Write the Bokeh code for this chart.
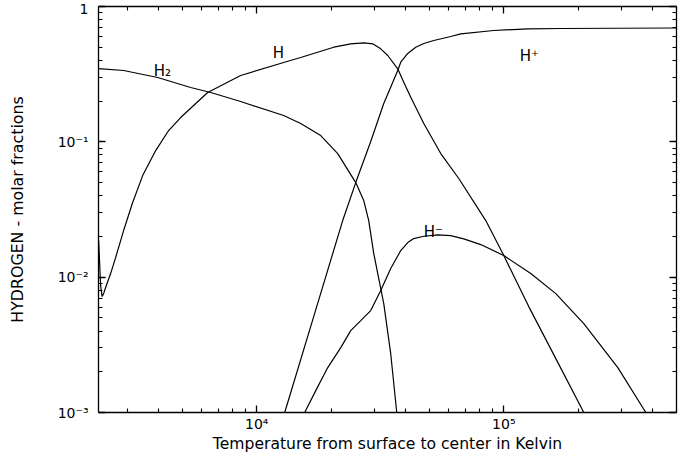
from bokeh.plotting import figure
from bokeh.models import LogAxis, FixedTicker, Range1d, ColumnDataSource
from bokeh.embed import file_html
from bokeh.resources import INLINE
from bokeh.core.properties import value

# ---------------- data (temperature in K, molar fraction) -------------
h2_temp = [2293, 2894, 3975, 5405, 6514, 8613, 12860, 15070, 18160, 21280, 25170,
           27120, 28410, 29770, 32680, 34870, 36880]
h2_frac = [0.348, 0.3365, 0.2987, 0.252, 0.2314, 0.1986, 0.1564, 0.1365, 0.1113, 0.0819,
           0.0500, 0.0368, 0.0262, 0.01494, 0.00638, 0.00272, 0.00100]

h_temp = [2293, 2336, 2368, 2402, 2447, 2564, 2686, 2894, 3148, 3456, 3901, 4403, 4924,
          6332, 8613, 12860, 15070, 20500, 24020, 27120, 29490, 31770, 33920, 37230,
          39370, 42030, 47450, 55580, 65750, 84560, 100000, 126200, 162400, 210800]
h_frac = [0.01864, 0.00867, 0.00719, 0.00756, 0.00838, 0.01063, 0.01396, 0.0221, 0.0356,
          0.0563, 0.0862, 0.1212, 0.1512, 0.2314, 0.3090, 0.3856, 0.4198, 0.5003, 0.5300,
          0.5391, 0.5300, 0.4868, 0.4344, 0.3464, 0.2758, 0.2136, 0.1365, 0.0819, 0.0536,
          0.0262, 0.01444, 0.00606, 0.00250, 0.00100]

hplus_temp = [12985, 17010, 22290, 25170, 28940, 32680, 37230, 38280, 40870, 44030, 47450,
              52080, 61020, 66950, 91100, 125100, 170200, 500000]
hplus_frac = [0.00100, 0.00511, 0.0262, 0.0500, 0.1005, 0.1919, 0.3365, 0.3876, 0.4495,
              0.5003, 0.5327, 0.5606, 0.6002, 0.6284, 0.6646, 0.684, 0.6878, 0.6937]

hminus_temp = [15640, 17340, 19390, 21890, 24020, 26370, 28940, 31770, 34870, 38280, 40870,
               43210, 47450, 54060, 61020, 68880, 80700, 100000, 128600, 162400, 210800,
               289400, 375700]
hminus_frac = [0.00100, 0.001451, 0.002147, 0.003018, 0.00403, 0.004777, 0.005664, 0.007962,
               0.01158, 0.01572, 0.01802, 0.01929, 0.02006, 0.02054, 0.0203, 0.01919,
               0.01741, 0.01444, 0.01063, 0.00756, 0.00454, 0.002147, 0.00100]

x_major = [1e4, 1e5]
x_minor = [3e3, 4e3, 5e3, 6e3, 7e3, 8e3, 9e3,
           2e4, 3e4, 4e4, 5e4, 6e4, 7e4, 8e4, 9e4,
           2e5, 3e5, 4e5, 5e5]
y_major = [1e-3, 1e-2, 1e-1, 1]
y_minor = [2e-3, 3e-3, 4e-3, 5e-3, 6e-3, 7e-3, 8e-3, 9e-3,
           2e-2, 3e-2, 4e-2, 5e-2, 6e-2, 7e-2, 8e-2, 9e-2,
           2e-1, 3e-1, 4e-1, 5e-1, 6e-1, 7e-1, 8e-1, 9e-1]
x_tick_text = {1e4: "10\u2074", 1e5: "10\u2075"}
y_tick_text = {1: "1", 0.1: "10\u207b\u00b9", 0.01: "10\u207b\u00b2", 0.001: "10\u207b\u00b3"}

species = ["H\u2082", "H", "H\u207a", "H\u207b"]
species_temp = [3828, 11610, 116100, 47450]
species_frac = [0.3365, 0.4495, 0.4344, 0.02173]

x_title = "Temperature from surface to center in Kelvin"
y_title = "HYDROGEN - molar fractions"

# ---------------- figure ----------------
FONT = "DejaVu Sans"

p = figure(width=692, height=456, x_axis_type="log", y_axis_type="log",
           x_range=Range1d(2290, 5e5), y_range=Range1d(1e-3, 1),
           output_backend="svg", toolbar_location=None,
           min_border_left=98, min_border_right=16, min_border_top=6, min_border_bottom=44)
p.grid.visible = False
p.outline_line_color = None
p.background_fill_color = "white"
p.border_fill_color = "white"


def style_axis(ax, ticks, minor, labels=None, show_labels=True):
    ax.ticker = FixedTicker(ticks=ticks, minor_ticks=minor)
    ax.axis_line_color = "black"
    ax.axis_line_width = 1.3
    ax.major_tick_line_color = "black"
    ax.major_tick_line_width = 1.3
    ax.minor_tick_line_color = "black"
    ax.minor_tick_line_width = 1.1
    ax.major_tick_in = 7
    ax.major_tick_out = 0
    ax.minor_tick_in = 4
    ax.minor_tick_out = 0
    ax.major_label_text_font = FONT
    ax.axis_label_text_font = FONT
    ax.axis_label_text_font_style = "normal"
    ax.axis_label_text_color = "black"
    if show_labels:
        ax.major_label_overrides = labels
        ax.major_label_text_font_size = "14px"
        ax.major_label_text_color = "black"
    else:
        ax.major_label_text_font_size = "1px"
        ax.major_label_text_alpha = 0
        ax.major_label_standoff = 0


xa = p.xaxis[0]
style_axis(xa, x_major, x_minor, x_tick_text)
xa.major_label_standoff = 3
xa.axis_label = x_title
xa.axis_label_text_font_size = "15.6px"
xa.axis_label_standoff = 0

ya = p.yaxis[0]
style_axis(ya, y_major, y_minor, y_tick_text)
ya.major_label_standoff = 10
ya.axis_label = y_title
ya.axis_label_text_font_size = "15.8px"
ya.axis_label_standoff = 28

top = LogAxis()
style_axis(top, x_major, x_minor, show_labels=False)
p.add_layout(top, "above")
right = LogAxis()
style_axis(right, y_major, y_minor, show_labels=False)
p.add_layout(right, "right")

for t, f in [(h2_temp, h2_frac), (h_temp, h_frac), (hplus_temp, hplus_frac),
             (hminus_temp, hminus_frac)]:
    p.line(t, f, line_color="black", line_width=1.2)

lab = ColumnDataSource(dict(x=species_temp, y=species_frac, text=species))
p.text(x="x", y="y", text="text", source=lab, text_font=value(FONT),
       text_font_size="15px", text_color="black", text_align="left",
       text_baseline="alphabetic")

open("out.html", "w").write(file_html(p, INLINE))
